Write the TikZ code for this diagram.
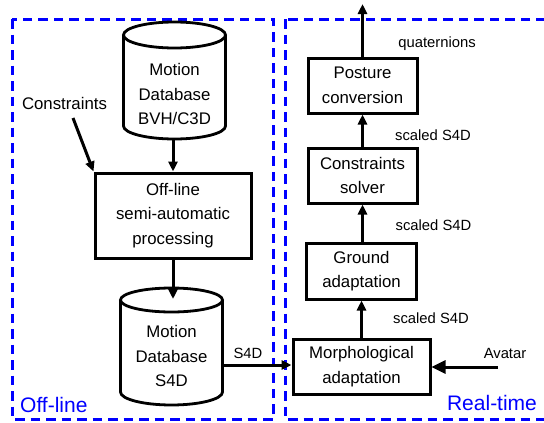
\documentclass[tikz,border=0pt]{standalone}
\usepackage{fontspec}
\setmainfont{Liberation Sans}
\usetikzlibrary{arrows.meta}
\begin{document}
\begin{tikzpicture}[x=1pt,y=-1pt,
  mainfont/.style={font=\fontsize{16.8}{24.5}\selectfont},
  smallfont/.style={font=\fontsize{14.8}{17}\selectfont},
  procbox/.style={draw,line width=3pt,mainfont,align=center,inner sep=0pt},
  txt/.style={mainfont,align=center,inner sep=0pt},
  lbl/.style={smallfont,inner sep=0pt},
  cyl/.style={line width=2.8pt},
  flow/.style={line width=3pt,-{Triangle[length=10pt,width=9pt]}},
  bigflow/.style={line width=3pt,-{Triangle[length=14pt,width=13pt]}},
  zone/.style={draw=blue,line width=3pt,dash pattern=on 9.5pt off 6pt},
  zonelbl/.style={text=blue,font=\fontsize{21}{24}\selectfont,inner sep=0pt}]
\useasboundingbox (0,0) rectangle (544,423);
% zones
\draw[zone] (12,19) rectangle (273,419);
\draw[zone] (285,19) rectangle (550,419);
\node[zonelbl,anchor=west] (offlbl) at (20,405) {Off-line};
\node[zonelbl] (rtlbl) at (492,403) {Real-time};
% top cylinder
\draw[cyl] (123.5,35) -- (123.5,126) arc[start angle=180,end angle=360,x radius=51pt,y radius=13pt] -- (225.5,35);
\draw[cyl] (174.5,35) ellipse[x radius=51pt,y radius=13pt];
\node[txt] (db1) at (174.5,94) {Motion\\Database\\BVH/C3D};
\coordinate (db1bot) at (173,139);
% lower cylinder
\draw[cyl] (120.5,300) -- (120.5,392) arc[start angle=180,end angle=360,x radius=51pt,y radius=13pt] -- (222.5,300);
\draw[cyl] (171.5,300) ellipse[x radius=51pt,y radius=12pt];
\node[txt] (db2) at (171.5,356) {Motion\\Database\\S4D};
\coordinate (db2top) at (173,299);
\coordinate (db2right) at (223,365);
% offline processing
\node[procbox,minimum width=156pt,minimum height=85pt] (off) at (173,215.5) {Off-line\\semi-automatic\\processing};
\node[txt] (cons) at (64.5,103) {Constraints};
\coordinate (consstart) at (73,118);
% right chain
\node[procbox,minimum width=109pt,minimum height=55pt] (post) at (362.5,85.5) {Posture\\conversion};
\node[procbox,minimum width=109pt,minimum height=55pt] (solv) at (362.5,175.5) {Constraints\\solver};
\node[procbox,minimum width=110pt,minimum height=56pt] (grnd) at (361.5,271) {Ground\\adaptation};
\node[procbox,minimum width=137pt,minimum height=55pt] (morph) at (361.5,366.5) {Morphological\\adaptation};
\coordinate (outtop) at (362.5,4);
\coordinate (avstart) at (498,367);
% labels
\node[lbl] (quat) at (437,44) {quaternions};
\node[lbl] (s1) at (433,135) {scaled S4D};
\node[lbl] (s2) at (433.5,225) {scaled S4D};
\node[lbl] (s3) at (431,318) {scaled S4D};
\node[lbl] (av) at (505,353) {Avatar};
\node[lbl] (s4d) at (248,353) {S4D};
% connectors
\draw[flow] (db1bot) -- (db1bot |- off.north);
\draw[flow] (consstart) -- (off.north west);
\draw[flow] (off.south -| db2top) -- (db2top);
\draw[flow] (db2right) -- (db2right -| morph.west);
\draw[bigflow] (avstart) -- (avstart -| morph.east);
\draw[flow] (morph.north -| grnd.south) -- (grnd.south);
\draw[flow] (grnd.north -| solv.south) -- (solv.south);
\draw[flow] (solv.north) -- (post.south);
\draw[flow] (post.north) -- (outtop);
\end{tikzpicture}
\end{document}
